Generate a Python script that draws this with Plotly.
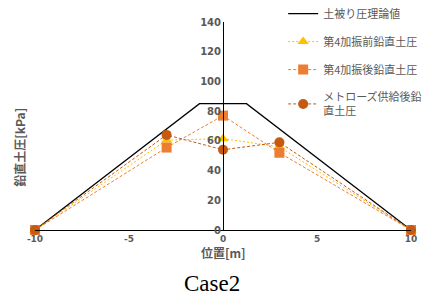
import plotly.graph_objects as go

# Data
theory_x = [-10, -1.25, 1.25, 10]
theory_y = [0, 85, 85, 0]
pos = [-10, -3, 0, 3, 10]
before4 = [0, 60.5, 61.5, 56, 0]
after4 = [0, 55.5, 77, 52, 0]
metrose = [0, 64, 54, 59, 0]
names = ["土被り圧理論値", "第4加振前鉛直土圧", "第4加振後鉛直土圧", "メトローズ供給後鉛<br>直土圧"]
yticks = [0, 20, 40, 60, 80, 100, 120, 140]
xticks = [-10, -5, 0, 5, 10]
xticklabels = ["-10", "-5", "0", "5", "10"]

JP = "Noto Sans CJK JP"
GRAY = "#595959"

fig = go.Figure()
fig.add_trace(go.Scatter(x=theory_x, y=theory_y, mode="lines", name=names[0],
                         line=dict(color="black", width=1.3), cliponaxis=False, legendgroup="a"))
fig.add_trace(go.Scatter(x=pos, y=before4, mode="lines+markers", name=names[1],
                         line=dict(color="#FFC000", width=1, dash="2px,2px"),
                         marker=dict(symbol="triangle-up", size=10, color="#FFC000"),
                         cliponaxis=False, legendgroup="b"))
fig.add_trace(go.Scatter(x=pos, y=after4, mode="lines+markers", name=names[2],
                         line=dict(color="#ED7D31", width=1, dash="3px,2px"),
                         marker=dict(symbol="square", size=10, color="#ED7D31"),
                         cliponaxis=False, legendgroup="c"))
fig.add_trace(go.Scatter(x=pos, y=metrose, mode="lines+markers", name=names[3],
                         line=dict(color="#C55A11", width=1, dash="3px,2px"),
                         marker=dict(symbol="circle", size=10, color="#C55A11"),
                         cliponaxis=False, legendgroup="d"))

fig.update_layout(
    width=422, height=296,
    margin=dict(l=35, r=11, t=22, b=66, autoexpand=False),
    paper_bgcolor="white", plot_bgcolor="white",
    font=dict(family=JP, color=GRAY, size=11),
    showlegend=True,
    legend=dict(x=0.66, y=1.11, xanchor="left", yanchor="top",
                bgcolor="rgba(0,0,0,0)", font=dict(family=JP, size=11, color=GRAY),
                tracegroupgap=9, itemwidth=30),
    xaxis=dict(range=[-10, 10], tickvals=xticks, ticktext=xticklabels, showgrid=False, zeroline=False,
               showline=True, linecolor="black", linewidth=1, ticks="",
               tickfont=dict(family="DejaVu Sans", size=9, color=GRAY, weight="bold")),
    yaxis=dict(range=[0, 140], tickvals=yticks, showgrid=False, zeroline=False,
               showline=True, linecolor="black", linewidth=1, ticks="",
               anchor="free", position=0.5,
               tickfont=dict(family="DejaVu Sans", size=10, color=GRAY, weight="bold")),
    annotations=[
        dict(text="位置[m]", x=0, xref="x", y=-0.11, yref="paper", showarrow=False,
             xanchor="center", yanchor="middle",
             font=dict(family=JP, size=12, color=GRAY, weight="bold")),
        dict(text="鉛直土圧[kPa]", x=-0.04, xref="paper", y=0.4, yref="paper", showarrow=False,
             textangle=-90, xanchor="center", yanchor="middle",
             font=dict(family=JP, size=12, color=GRAY, weight="bold")),
        dict(text="Case2", x=0.47, xref="paper", y=-0.255, yref="paper", showarrow=False,
             xanchor="center", yanchor="middle",
             font=dict(family="Liberation Serif", size=23, color="black")),
    ],
)

fig.write_html("out.html", config={"displayModeBar": False},
               post_script="document.body.style.margin='0';document.body.style.padding='0';")
